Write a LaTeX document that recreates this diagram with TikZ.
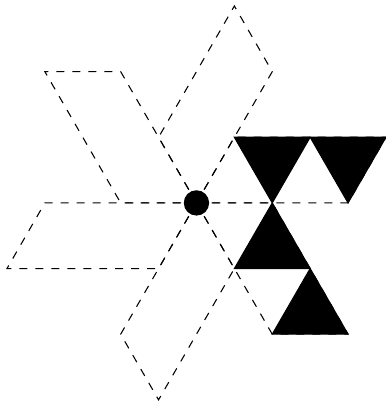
\documentclass[tikz,border=0pt]{standalone}
\begin{document}
\begin{tikzpicture}
        \useasboundingbox (-2.592,-2.666) rectangle (2.5,2.677);

        % Dashed parallelograms around the centre
        \draw[dashed] (0,0) -- (0:2) -- ++(60:1) -- (60:1) -- cycle;
        \draw[dashed] (0,0) -- (60:2) -- ++(120:1) -- (120:1) -- cycle;
        \draw[dashed] (0,0) -- (120:2) -- ++(180:1) -- (180:1) -- cycle;
        \draw[dashed] (0,0) -- (180:2) -- ++(240:1) -- (240:1) -- cycle;
        \draw[dashed] (0,0) -- (240:2) -- ++(300:1) -- (300:1) -- cycle;
        \draw[dashed] (0,0) -- (300:2) -- ++(0:1) -- (0:1) -- cycle;

        % Black triangles
        \filldraw[black] (0.5,0.866) -- (1.5,0.866) -- (1,0) -- cycle;
        \filldraw[black] (1.5,0.866) -- (2.5,0.866) -- (2,0) -- cycle;
        \filldraw[black] (1,0) -- (0.5,-0.866) -- (1.5,-0.866) -- cycle;
        \filldraw[black] (1.5,-0.866) -- (1,-1.732) -- (2,-1.732) -- cycle;

        % Centre point
        \filldraw[black] (0,0) circle (0.16);
    \end{tikzpicture}
\end{document}
